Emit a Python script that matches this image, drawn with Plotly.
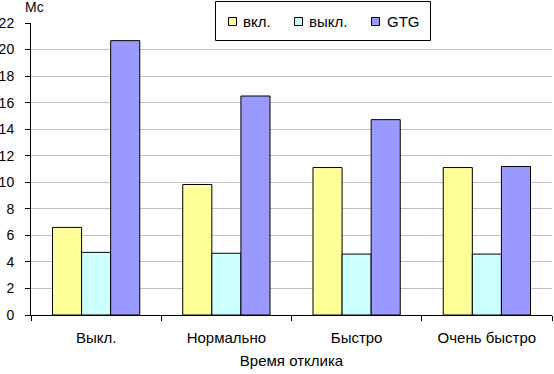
import plotly.graph_objects as go

categories = ["Выкл.", "Нормально", "Быстро", "Очень быстро"]
vkl = [6.6, 9.83, 11.11, 11.11]
vykl = [4.72, 4.65, 4.59, 4.59]
gtg = [20.67, 16.5, 14.72, 11.19]
series_names = ["вкл.", "выкл.", "GTG"]
colors = ["#FFFF99", "#CCFFFF", "#9999FF"]
y_ticks = list(range(0, 23, 2))

FONT = "Liberation Sans, Arial, sans-serif"

W, H = 554, 374
L, R, T, B = 31, 2, 23, 59
PW, PH = W - L - R, H - T - B


def px_x(px):
    return (px - L) / PW


def px_y(py):
    return (H - B - py) / PH


fig = go.Figure()
for name, vals, col in zip(series_names, [vkl, vykl, gtg], colors):
    fig.add_trace(go.Bar(
        x=categories, y=vals, name=name,
        marker=dict(color=col, line=dict(color="black", width=1)),
    ))

# legend box drawn manually
shapes = [dict(
    type="rect", xref="paper", yref="paper",
    x0=px_x(215.5), x1=px_x(430.5), y0=px_y(40.5), y1=px_y(1.5),
    fillcolor="white", line=dict(color="black", width=1), layer="above",
)]
annotations = []
sym_x = [228, 294, 371]
txt_x = [242, 308, 386]
for name, col, sx, tx in zip(series_names, colors, sym_x, txt_x):
    shapes.append(dict(
        type="rect", xref="paper", yref="paper",
        x0=px_x(sx + 0.5), x1=px_x(sx + 8.5), y0=px_y(25.5), y1=px_y(17.5),
        fillcolor=col, line=dict(color="black", width=1), layer="above",
    ))
    annotations.append(dict(
        text=name, xref="paper", yref="paper", x=px_x(tx - 1), y=px_y(21.5),
        xanchor="left", yanchor="middle", showarrow=False,
        font=dict(family=FONT, size=15, color="black"),
    ))

annotations.append(dict(
    text="Мс", xref="paper", yref="paper", x=px_x(23), y=px_y(-3),
    xanchor="left", yanchor="top", showarrow=False,
    font=dict(family=FONT, size=14, color="black"),
))

fig.update_layout(
    width=W, height=H,
    margin=dict(l=L, r=R, t=T, b=B, autoexpand=False),
    paper_bgcolor="white", plot_bgcolor="white",
    barmode="group", bargap=0.33, bargroupgap=0,
    font=dict(family=FONT, size=15, color="black"),
    showlegend=False,
    hovermode=False,
    xaxis=dict(
        automargin=False,
        showline=True, linecolor="black", linewidth=1,
        ticks="outside", tickson="boundaries", ticklen=5, tickcolor="black",
        ticklabelstandoff=9,
        tickfont=dict(size=15),
        title=dict(text="Время отклика", font=dict(size=15), standoff=10),
        showgrid=False,
    ),
    yaxis=dict(
        automargin=False,
        range=[0, 22], tickvals=y_ticks,
        showline=True, linecolor="black", linewidth=1,
        ticks="outside", ticklen=5, tickcolor="black",
        ticklabelstandoff=8,
        tickfont=dict(size=14),
        showgrid=True, gridcolor="#C0C0C0", gridwidth=1,
        zeroline=False,
    ),
    shapes=shapes,
    annotations=annotations,
)

fig.write_html(
    "out.html",
    config={"displayModeBar": False, "staticPlot": True},
    post_script="document.body.style.margin='0';document.body.style.overflow='hidden';",
)
